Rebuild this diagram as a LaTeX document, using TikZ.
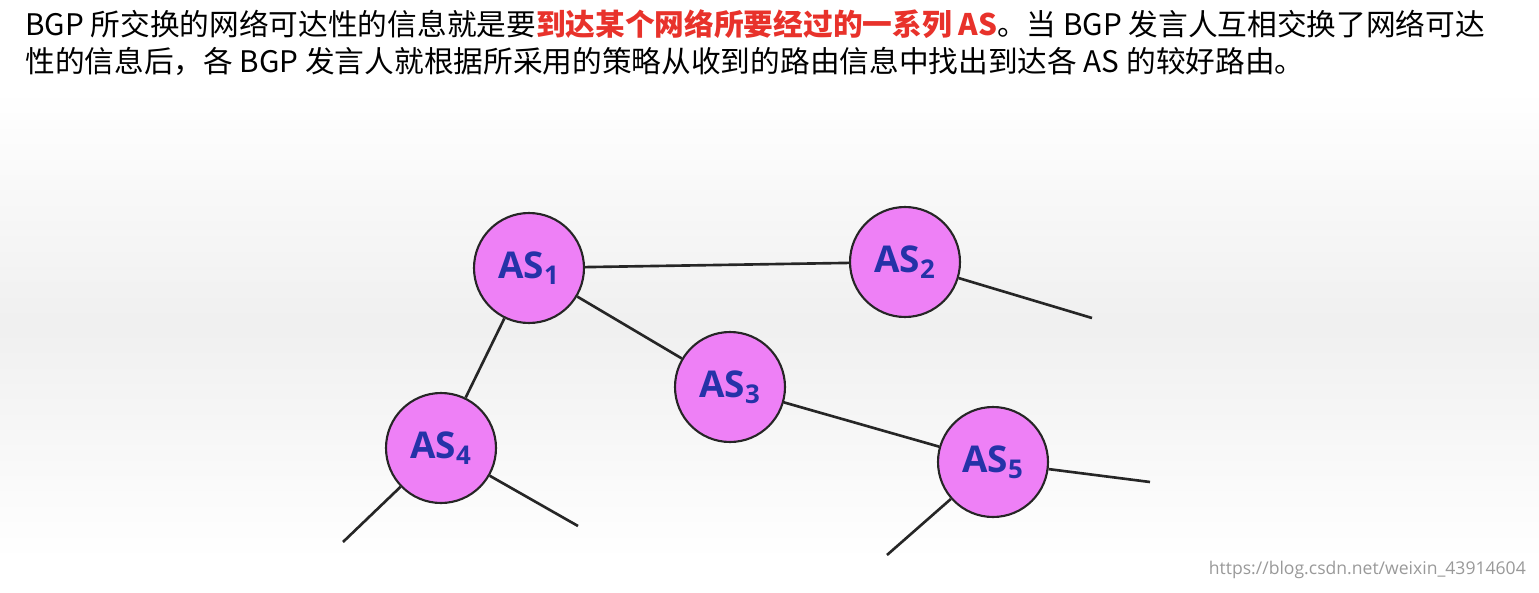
\documentclass[tikz,border=0pt]{standalone}
\usepackage{fontspec}
\setmainfont{Noto Sans CJK SC}
\newfontfamily\asfont{Open Sans}
\definecolor{asfill}{HTML}{EE80F6}
\definecolor{astext}{HTML}{2532A8}
\definecolor{keyred}{HTML}{E8322B}
\newcommand{\asname}[1]{AS\textsubscript{#1}}

\begin{document}
\begin{tikzpicture}[x=0.02cm, y=-0.02cm,
    asnode/.style={draw=black!85, line width=1.2pt, circle, fill=asfill, minimum size=2.2cm, inner sep=0pt, font=\asfont\bfseries\fontsize{21}{21}\selectfont, text=astext},
    link/.style={line width=1.5pt, black!85}]
    \useasboundingbox (0,0) rectangle (1539,592);
    \shade[top color=white, bottom color=white, middle color=black!6] (0,90) rectangle (1539,560);

    \node[anchor=north west, align=left, inner sep=0pt, font=\fontsize{16.9}{21.5}\selectfont] (intro) at (25,9)
        {BGP 所交换的网络可达性的信息就是要{\color{keyred}\bfseries 到达某个网络所要经过的一系列 AS}。当 BGP 发言人互相交换了网络可达\\
         性的信息后，各 BGP 发言人就根据所采用的策略从收到的路由信息中找出到达各 AS 的较好路由。};

    \node[asnode] (as1) at (529,268) {\asname{1}};
    \node[asnode] (as2) at (905,262) {\asname{2}};
    \node[asnode] (as3) at (730,387) {\asname{3}};
    \node[asnode] (as4) at (441,448) {\asname{4}};
    \node[asnode] (as5) at (993,462) {\asname{5}};

    \coordinate (end2) at (1092,318);
    \coordinate (end4a) at (343,542);
    \coordinate (end4b) at (578,526);
    \coordinate (end5a) at (1150,482);
    \coordinate (end5b) at (887,555);

    \draw[link] (as1) -- (as2);
    \draw[link] (as1) -- (as3);
    \draw[link] (as1) -- (as4);
    \draw[link] (as3) -- (as5);
    \draw[link] (as2) -- (end2);
    \draw[link] (as4) -- (end4a);
    \draw[link] (as4) -- (end4b);
    \draw[link] (as5) -- (end5a);
    \draw[link] (as5) -- (end5b);

    \node[anchor=south east, text=black!40, font=\fontsize{10}{10}\selectfont\asfont] (mark) at (1532,585) {https://blog.csdn.net/weixin\_43914604};
\end{tikzpicture}
\end{document}
